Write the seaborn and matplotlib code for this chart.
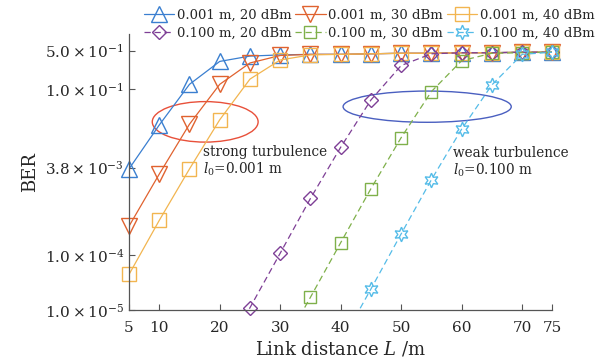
import numpy as np
import pandas as pd
import matplotlib.pyplot as plt
import seaborn as sns
from matplotlib.lines import Line2D
from matplotlib.patches import Ellipse

sns.set_style('ticks')
plt.rcParams['font.family'] = ['DejaVu Serif']
plt.rcParams['mathtext.fontset'] = 'dejavuserif'

# 数据
dist_strong = [5, 10, 15, 20, 25, 30, 35, 40, 45, 50, 55, 60, 65, 70, 75]
ber_s20 = [3.6e-3, 2.25e-2, 0.123, 0.32, 0.40, 0.42, 0.43, 0.43, 0.44, 0.45, 0.45, 0.46, 0.46, 0.47, 0.47]
ber_s30 = [3.3e-4, 2.9e-3, 2.33e-2, 0.123, 0.30, 0.41, 0.43, 0.43, 0.44, 0.45, 0.45, 0.46, 0.46, 0.47, 0.47]
ber_s40 = [4.4e-5, 4.2e-4, 3.6e-3, 2.8e-2, 0.153, 0.34, 0.42, 0.43, 0.44, 0.45, 0.45, 0.46, 0.46, 0.47, 0.47]

dist_w20 = [20, 25, 30, 35, 40, 45, 50, 55, 60, 65, 70, 75]
ber_w20 = [1.2e-6, 1.1e-5, 1.07e-4, 1.05e-3, 8.9e-3, 6.4e-2, 0.27, 0.44, 0.46, 0.46, 0.47, 0.47]
dist_w30 = [30, 35, 40, 45, 50, 55, 60, 65, 70, 75]
ber_w30 = [1.8e-6, 1.7e-5, 1.66e-4, 1.58e-3, 1.33e-2, 9.1e-2, 0.33, 0.45, 0.46, 0.47]
dist_w40 = [40, 45, 50, 55, 60, 65, 70, 75]
ber_w40 = [2.5e-6, 2.4e-5, 2.4e-4, 2.3e-3, 1.9e-2, 0.12, 0.43, 0.47]

labels = ['0.001 m, 20 dBm', '0.001 m, 30 dBm', '0.001 m, 40 dBm',
          '0.100 m, 20 dBm', '0.100 m, 30 dBm', '0.100 m, 40 dBm']
colors = ['#3a7fd0', '#e0622f', '#f2b550', '#7e3f96', '#7fb04a', '#55bce8']
markers = ['^', 'v', 's', 'D', 's', (6, 1, 0)]
msizes = [11, 11, 9.5, 7.5, 9, 10.5]

yticks = [1e-5, 1e-4, 3.8e-3, 1e-1, 5e-1]
ytick_labels = [r'$1.0\times10^{-5}$', r'$1.0\times10^{-4}$', r'$3.8\times10^{-3}$',
                r'$1.0\times10^{-1}$', r'$5.0\times10^{-1}$']
xticks = [5, 10, 20, 30, 40, 50, 60, 70, 75]

series = [(dist_strong, ber_s20, '-'), (dist_strong, ber_s30, '-'), (dist_strong, ber_s40, '-'),
          (dist_w20, ber_w20, (0, (5, 3))), (dist_w30, ber_w30, (0, (5, 3))), (dist_w40, ber_w40, (0, (5, 3)))]

fig = plt.figure(figsize=(6.07, 3.63), dpi=100)
ax = fig.add_axes([0.2125, 0.146, 0.6975, 0.760])

handles = []
for i, (xs, ys, ls) in enumerate(series):
    df = pd.DataFrame({'L': xs, 'BER': ys})
    sns.lineplot(data=df, x='L', y='BER', color=colors[i], linestyle=ls, lw=0.9, ax=ax)
    vis = df[df['BER'] >= 1e-5]
    sns.lineplot(data=vis, x='L', y='BER', color=colors[i], linestyle='none', marker=markers[i],
                 ms=msizes[i], mfc='none', mec=colors[i], mew=1.0, clip_on=False, ax=ax)
    handles.append(Line2D([], [], color=colors[i], linestyle=ls, lw=0.9, marker=markers[i],
                          ms=msizes[i], mfc='none', mec=colors[i], mew=1.0))

ax.set_yscale('log')
ax.set_xlim(5, 75)
ax.set_ylim(1e-5, 1)
ax.set_xticks(xticks)
ax.set_xticklabels([str(t) for t in xticks], fontsize=11)
ax.set_yticks(yticks)
ax.set_yticklabels(ytick_labels, fontsize=11)
ax.minorticks_off()
ax.tick_params(direction='in', length=4, width=0.8, color='#555555')
ax.tick_params(axis='x', pad=8)
for s in ['top', 'right']:
    ax.spines[s].set_visible(False)
for s in ['left', 'bottom']:
    ax.spines[s].set_color('#555555')
    ax.spines[s].set_linewidth(0.9)
ax.set_xlabel('Link distance $L$ /m', fontsize=13, labelpad=3)
ax.set_ylabel('BER', fontsize=13, labelpad=4)


# 椭圆 (以数据坐标给出, 换算为坐标轴比例)
def draw_ellipse(cx, cy, w, h_dec, color):
    ex = (cx - 5) / 70
    ey = (np.log10(cy) + 5) / 5
    ax.add_patch(Ellipse((ex, ey), w / 70, h_dec / 5, transform=ax.transAxes,
                         fill=False, edgecolor=color, lw=1.0))


draw_ellipse(17.6, 10 ** -1.59, 17.5, 0.734, '#e8503a')
draw_ellipse(54.3, 10 ** -1.315, 27.8, 0.566, '#4a5fc0')

ax.text(17.2, 7.2e-3, 'strong turbulence', fontsize=9.8, va='center', ha='left')
ax.text(17.2, 3.6e-3, '$l_0$=0.001 m', fontsize=9.8, va='center', ha='left')
ax.text(58.5, 7.0e-3, 'weak turbulence', fontsize=9.8, va='center', ha='left')
ax.text(58.5, 3.4e-3, '$l_0$=0.100 m', fontsize=9.8, va='center', ha='left')

order = [0, 3, 1, 4, 2, 5]
fig.legend([handles[k] for k in order], [labels[k] for k in order], ncol=3,
           loc='upper center', bbox_to_anchor=(0.608, 0.988), frameon=False, fontsize=9.5,
           handlelength=2.3, handletextpad=0.2, columnspacing=0.3, labelspacing=0.42,
           borderaxespad=0.1, borderpad=0.2)

fig.savefig('out.png', dpi=100)
